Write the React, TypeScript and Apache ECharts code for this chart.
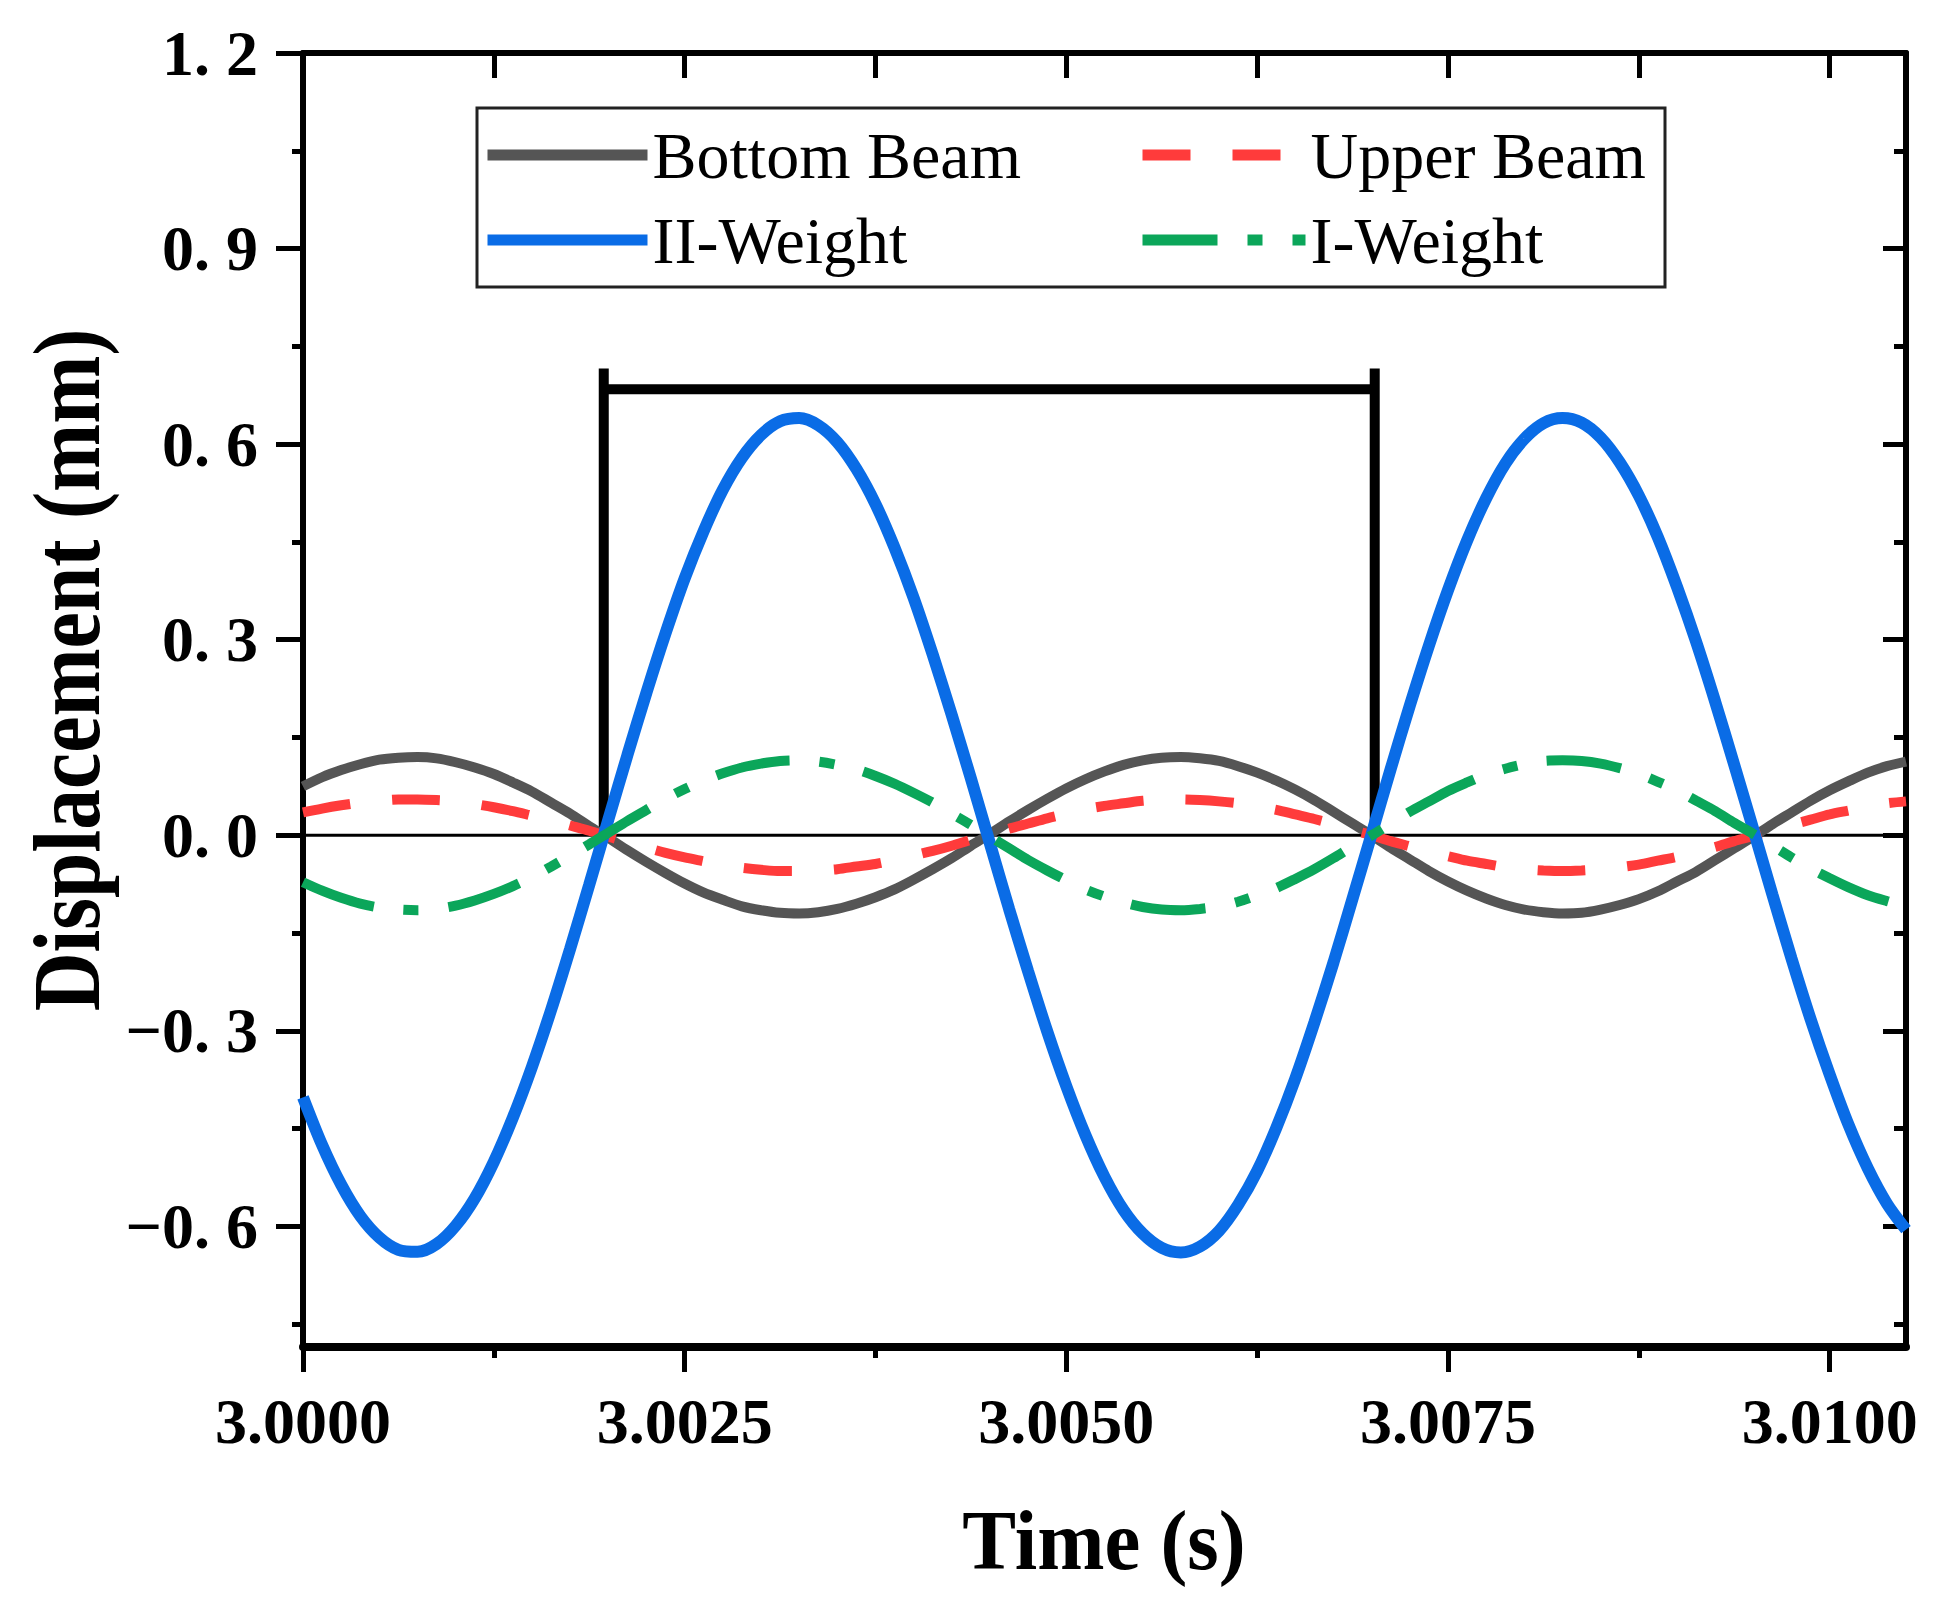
import React, { useEffect, useRef } from "react";
import * as echarts from "echarts";

// ---- data ----
const timeS = [
  3.0, 3.000125, 3.00025, 3.000375, 3.0005, 3.000625, 3.00075, 3.000875, 3.001, 3.001125,
  3.00125, 3.001375, 3.0015, 3.001625, 3.00175, 3.001875, 3.002, 3.002125, 3.00225, 3.002375,
  3.0025, 3.002625, 3.00275, 3.002875, 3.003, 3.003125, 3.00325, 3.003375, 3.0035, 3.003625,
  3.00375, 3.003875, 3.004, 3.004125, 3.00425, 3.004375, 3.0045, 3.004625, 3.00475, 3.004875,
  3.005, 3.005125, 3.00525, 3.005375, 3.0055, 3.005625, 3.00575, 3.005875, 3.006, 3.006125,
  3.00625, 3.006375, 3.0065, 3.006625, 3.00675, 3.006875, 3.007, 3.007125, 3.00725, 3.007375,
  3.0075, 3.007625, 3.00775, 3.007875, 3.008, 3.008125, 3.00825, 3.008375, 3.0085, 3.008625,
  3.00875, 3.008875, 3.009, 3.009125, 3.00925, 3.009375, 3.0095, 3.009625, 3.00975, 3.009875,
  3.01, 3.010125, 3.01025, 3.010375, 3.0105,
];
const bottomBeam = [
  0.075, 0.089, 0.1, 0.109, 0.116, 0.119, 0.12, 0.118, 0.112, 0.104,
  0.094, 0.081, 0.067, 0.05, 0.033, 0.014, -0.004, -0.023, -0.041, -0.058,
  -0.074, -0.088, -0.099, -0.109, -0.115, -0.119, -0.12, -0.118, -0.113, -0.105,
  -0.095, -0.083, -0.068, -0.052, -0.035, -0.016, 0.002, 0.021, 0.039, 0.056,
  0.072, 0.086, 0.098, 0.108, 0.115, 0.119, 0.12, 0.118, 0.114, 0.106,
  0.096, 0.084, 0.07, 0.054, 0.036, 0.018, 0.0, -0.019, -0.037, -0.055,
  -0.071, -0.085, -0.097, -0.107, -0.114, -0.118, -0.12, -0.119, -0.114, -0.107,
  -0.098, -0.086, -0.071, -0.056, -0.038, -0.02, -0.002, 0.017, 0.035, 0.053,
  0.069, 0.083, 0.096, 0.106, 0.113,
];
const upperBeam = [
  0.035, 0.041, 0.046, 0.05, 0.053, 0.055, 0.055, 0.054, 0.052, 0.048,
  0.043, 0.037, 0.03, 0.023, 0.015, 0.007, -0.002, -0.011, -0.019, -0.027,
  -0.034, -0.04, -0.046, -0.05, -0.053, -0.055, -0.055, -0.054, -0.052, -0.048,
  -0.044, -0.038, -0.031, -0.024, -0.016, -0.007, 0.001, 0.01, 0.018, 0.026,
  0.033, 0.04, 0.045, 0.049, 0.053, 0.054, 0.055, 0.054, 0.052, 0.049,
  0.044, 0.039, 0.032, 0.025, 0.017, 0.008, 0.0, -0.009, -0.017, -0.025,
  -0.032, -0.039, -0.044, -0.049, -0.052, -0.054, -0.055, -0.054, -0.052, -0.049,
  -0.045, -0.039, -0.033, -0.025, -0.018, -0.009, -0.001, 0.008, 0.016, 0.024,
  0.032, 0.038, 0.044, 0.049, 0.052,
];
const weightII = [
  -0.402, -0.475, -0.536, -0.584, -0.617, -0.636, -0.639, -0.627, -0.599, -0.557,
  -0.501, -0.433, -0.355, -0.268, -0.174, -0.076, 0.024, 0.123, 0.219, 0.31,
  0.394, 0.467, 0.53, 0.579, 0.614, 0.635, 0.64, 0.629, 0.603, 0.562,
  0.508, 0.441, 0.364, 0.277, 0.184, 0.087, -0.013, -0.113, -0.209, -0.301,
  -0.385, -0.46, -0.524, -0.575, -0.611, -0.633, -0.64, -0.631, -0.607, -0.567,
  -0.515, -0.449, -0.373, -0.287, -0.195, -0.097, 0.002, 0.102, 0.199, 0.291,
  0.376, 0.452, 0.517, 0.57, 0.608, 0.632, 0.64, 0.633, 0.61, 0.572,
  0.521, 0.457, 0.381, 0.297, 0.205, 0.108, 0.009, -0.091, -0.189, -0.282,
  -0.367, -0.445, -0.511, -0.565, -0.605,
];
const weightI = [
  -0.072, -0.085, -0.096, -0.105, -0.111, -0.114, -0.115, -0.113, -0.108, -0.1,
  -0.09, -0.078, -0.064, -0.048, -0.031, -0.014, 0.004, 0.022, 0.039, 0.056,
  0.071, 0.084, 0.095, 0.104, 0.11, 0.114, 0.115, 0.113, 0.108, 0.101,
  0.091, 0.079, 0.065, 0.05, 0.033, 0.016, -0.002, -0.02, -0.038, -0.054,
  -0.069, -0.083, -0.094, -0.103, -0.11, -0.114, -0.115, -0.113, -0.109, -0.102,
  -0.092, -0.081, -0.067, -0.052, -0.035, -0.017, 0.0, 0.018, 0.036, 0.052,
  0.068, 0.081, 0.093, 0.102, 0.109, 0.114, 0.115, 0.114, 0.11, 0.103,
  0.094, 0.082, 0.069, 0.053, 0.037, 0.019, 0.002, -0.016, -0.034, -0.051,
  -0.066, -0.08, -0.092, -0.101, -0.109,
];
const bracketX = [3.00197, 3.00197, 3.00197, 3.00702, 3.00702, 3.00702];
const bracketY = [0, 0.716, 0.684, 0.684, 0.716, 0];
const zeroLineX = [3.0, 3.0105];
const zeroLineY = [0, 0];

const xRange = [3.0, 3.0105];
const yRange = [-0.785, 1.2];
const xMajorTicks = [3.0, 3.0025, 3.005, 3.0075, 3.01];
const xMinorTicks = [3.00125, 3.00375, 3.00625, 3.00875];
const yMajorTicks = [-0.6, -0.3, 0, 0.3, 0.6, 0.9, 1.2];
const yMinorTicks = [-0.75, -0.45, -0.15, 0.15, 0.45, 0.75, 1.05];

const seriesNames = ["Bottom Beam", "Upper Beam", "II-Weight", "I-Weight"];
const xTitle = "Time (s)";
const yTitle = "Displacement (mm)";

const SERIF = '"Liberation Serif", "Times New Roman", serif';

function pairs(xs: number[], ys: number[]) {
  return xs.map((x, i) => [x, ys[i]]);
}

function fmtY(v: number) {
  const s = Math.abs(v).toFixed(1).replace(".", ". ");
  return v < -1e-9 ? "\u2212" + s : s;
}

function buildOption() {
  const tickStyle = { color: "#000", width: 5 };
  const hiddenLine = { show: false, onZero: false };
  const xBase = { type: "value", min: xRange[0], max: xRange[1], splitLine: { show: false } };
  const yBase = { type: "value", min: yRange[0], max: yRange[1], splitLine: { show: false } };
  const lineSeries = (name: string, ys: number[], color: string, width: number, type: any, z: number) => ({
    type: "line",
    name,
    data: pairs(timeS, ys),
    xAxisIndex: 0,
    yAxisIndex: 0,
    smooth: 0.3,
    symbol: "none",
    showSymbol: false,
    silent: true,
    z,
    lineStyle: { color, width, type, cap: "butt" },
    itemStyle: { color },
  });
  const legendText = { fontFamily: SERIF, fontSize: 66, lineHeight: 66, color: "#000" };
  const legendCommon = {
    orient: "vertical",
    top: 122,
    padding: 0,
    itemHeight: 14,
    itemGap: 19,
    selectedMode: false,
    z: 20,
    itemStyle: { opacity: 0 },
    lineStyle: { width: 11 },
    textStyle: legendText,
  };
  return {
    animation: false,
    backgroundColor: "#ffffff",
    grid: { left: 303, right: 49, top: 53, bottom: 272, containLabel: false, outerBoundsMode: "none" },
    xAxis: [
      {
        ...xBase,
        position: "bottom",
        axisLine: { show: true, onZero: false, lineStyle: { color: "#000", width: 8 } },
        axisTick: { show: true, inside: false, length: 25, customValues: xMajorTicks, lineStyle: tickStyle },
        axisLabel: {
          show: true,
          customValues: xMajorTicks,
          margin: 42,
          formatter: (v: number) => v.toFixed(4),
          fontFamily: SERIF,
          fontWeight: "bold",
          fontSize: 64,
          color: "#000",
        },
      },
      {
        ...xBase,
        position: "bottom",
        axisLine: hiddenLine,
        axisTick: { show: true, inside: false, length: 11, customValues: xMinorTicks, lineStyle: tickStyle },
        axisLabel: { show: false },
      },
      {
        ...xBase,
        position: "top",
        axisLine: { show: true, onZero: false, lineStyle: { color: "#000", width: 6 } },
        axisTick: { show: true, inside: true, length: 25, customValues: [...xMajorTicks, ...xMinorTicks], lineStyle: tickStyle },
        axisLabel: { show: false },
      },
    ],
    yAxis: [
      {
        ...yBase,
        position: "left",
        axisLine: { show: true, onZero: false, lineStyle: { color: "#000", width: 6 } },
        axisTick: { show: true, inside: false, length: 27, customValues: yMajorTicks, lineStyle: tickStyle },
        axisLabel: {
          show: true,
          customValues: yMajorTicks,
          margin: 45,
          formatter: fmtY,
          fontFamily: SERIF,
          fontWeight: "bold",
          fontSize: 64,
          color: "#000",
        },
      },
      {
        ...yBase,
        position: "left",
        axisLine: hiddenLine,
        axisTick: { show: true, inside: false, length: 11, customValues: yMinorTicks, lineStyle: tickStyle },
        axisLabel: { show: false },
      },
      {
        ...yBase,
        position: "right",
        axisLine: { show: true, onZero: false, lineStyle: { color: "#000", width: 6 } },
        axisTick: { show: true, inside: true, length: 23, customValues: yMajorTicks, lineStyle: tickStyle },
        axisLabel: { show: false },
      },
      {
        ...yBase,
        position: "right",
        axisLine: hiddenLine,
        axisTick: { show: true, inside: true, length: 12, customValues: yMinorTicks, lineStyle: tickStyle },
        axisLabel: { show: false },
      },
    ],
    legend: [
      { ...legendCommon, data: [seriesNames[0], seriesNames[2]], left: 482, itemWidth: 160 },
      { ...legendCommon, data: [seriesNames[1], seriesNames[3]], left: 1137, itemWidth: 163 },
    ],
    graphic: [
      {
        type: "rect",
        shape: { x: 477, y: 108, width: 1188, height: 179 },
        style: { fill: "none", stroke: "#222", lineWidth: 3 },
        silent: true,
      },
      {
        type: "text",
        x: 67,
        y: 670,
        rotation: Math.PI / 2,
        scaleX: 0.86,
        style: {
          text: yTitle,
          font: 'bold 95px "Liberation Serif", "Times New Roman", serif',
          align: "center",
          verticalAlign: "middle",
          fill: "#000",
        },
        silent: true,
      },
      {
        type: "text",
        x: 1104,
        y: 1540,
        scaleX: 0.95,
        style: {
          text: xTitle,
          font: 'bold 85px "Liberation Serif", "Times New Roman", serif',
          align: "center",
          verticalAlign: "middle",
          fill: "#000",
        },
        silent: true,
      },
    ],
    series: [
      {
        type: "line",
        name: "zero",
        data: pairs(zeroLineX, zeroLineY),
        symbol: "none",
        silent: true,
        z: 1,
        lineStyle: { color: "#000", width: 3 },
      },
      {
        type: "line",
        name: "bracket",
        data: pairs(bracketX, bracketY),
        symbol: "none",
        silent: true,
        z: 2,
        lineStyle: { color: "#000", width: 10, join: "miter" },
      },
      lineSeries(seriesNames[0], bottomBeam, "#555555", 10, "solid", 3),
      lineSeries(seriesNames[1], upperBeam, "#FF3B3B", 10, [48, 42], 4),
      lineSeries(seriesNames[2], weightII, "#0A6CE6", 12, "solid", 5),
      lineSeries(seriesNames[3], weightI, "#0BA65A", 10, [75, 30, 15, 30], 6),
    ],
  };
}

export default function App() {
  const ref = useRef<HTMLDivElement>(null);
  useEffect(() => {
    if (!ref.current) return;
    const chart = echarts.init(ref.current, null, { renderer: "svg" });
    chart.setOption(buildOption() as any);
    return () => chart.dispose();
  }, []);
  return (
    <div
      ref={ref}
      style={{ position: "fixed", left: 0, top: 0, width: 1955, height: 1619, background: "#fff" }}
    />
  );
}
